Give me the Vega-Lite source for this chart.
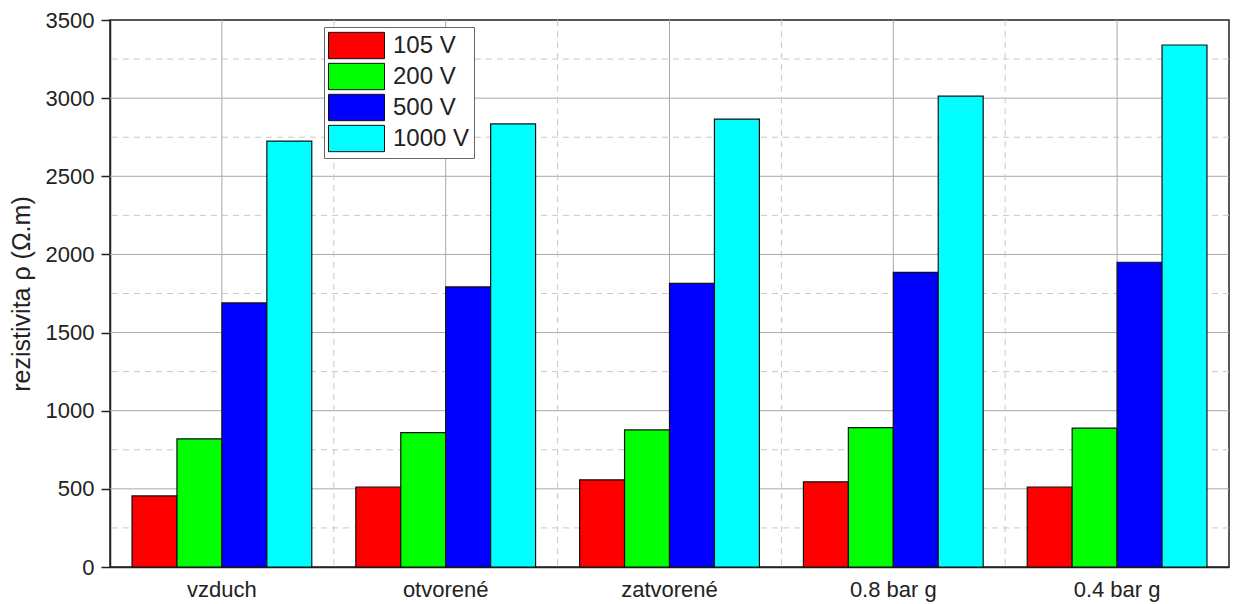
{
  "$schema": "https://vega.github.io/schema/vega-lite/v6.json",
  "width": 1119,
  "height": 547,
  "autosize": {"type": "none"},
  "padding": {"left": 110, "top": 20, "right": 11, "bottom": 37},
  "background": "white",
  "config": {
    "font": "Liberation Sans",
    "view": {"stroke": "#222", "strokeWidth": 1.5},
    "axis": {"labelFont": "Liberation Sans", "titleFont": "Liberation Sans", "labelColor": "#222", "titleColor": "#222", "domainColor": "#222", "tickColor": "#222", "domainWidth": 1.5, "tickWidth": 1.5}
  },
  "datasets": {
    "bars": [
      {"kategoria": "vzduch", "napatie": "105 V", "rho": 455},
      {"kategoria": "vzduch", "napatie": "200 V", "rho": 820},
      {"kategoria": "vzduch", "napatie": "500 V", "rho": 1690},
      {"kategoria": "vzduch", "napatie": "1000 V", "rho": 2725},
      {"kategoria": "otvorené", "napatie": "105 V", "rho": 512},
      {"kategoria": "otvorené", "napatie": "200 V", "rho": 860},
      {"kategoria": "otvorené", "napatie": "500 V", "rho": 1792},
      {"kategoria": "otvorené", "napatie": "1000 V", "rho": 2835},
      {"kategoria": "zatvorené", "napatie": "105 V", "rho": 558},
      {"kategoria": "zatvorené", "napatie": "200 V", "rho": 877},
      {"kategoria": "zatvorené", "napatie": "500 V", "rho": 1815},
      {"kategoria": "zatvorené", "napatie": "1000 V", "rho": 2866},
      {"kategoria": "0.8 bar g", "napatie": "105 V", "rho": 545},
      {"kategoria": "0.8 bar g", "napatie": "200 V", "rho": 892},
      {"kategoria": "0.8 bar g", "napatie": "500 V", "rho": 1885},
      {"kategoria": "0.8 bar g", "napatie": "1000 V", "rho": 3013},
      {"kategoria": "0.4 bar g", "napatie": "105 V", "rho": 512},
      {"kategoria": "0.4 bar g", "napatie": "200 V", "rho": 889},
      {"kategoria": "0.4 bar g", "napatie": "500 V", "rho": 1950},
      {"kategoria": "0.4 bar g", "napatie": "1000 V", "rho": 3340}
    ],
    "minor": [{"v": 250}, {"v": 750}, {"v": 1250}, {"v": 1750}, {"v": 2250}, {"v": 2750}, {"v": 3250}],
    "major": [{"v": 500}, {"v": 1000}, {"v": 1500}, {"v": 2000}, {"v": 2500}, {"v": 3000}],
    "cats": [{"kategoria": "vzduch"}, {"kategoria": "otvorené"}, {"kategoria": "zatvorené"}, {"kategoria": "0.8 bar g"}, {"kategoria": "0.4 bar g"}],
    "bounds": [{"kategoria": "otvorené"}, {"kategoria": "zatvorené"}, {"kategoria": "0.8 bar g"}, {"kategoria": "0.4 bar g"}]
  },
  "layer": [
    {
      "data": {"name": "minor"},
      "mark": {"type": "rule", "color": "#c8c8c8", "strokeDash": [6, 5], "strokeWidth": 1},
      "encoding": {"y": {"field": "v", "type": "quantitative"}}
    },
    {
      "data": {"name": "major"},
      "mark": {"type": "rule", "color": "#a8a8a8", "strokeWidth": 1},
      "encoding": {"y": {"field": "v", "type": "quantitative"}}
    },
    {
      "data": {"name": "bounds"},
      "mark": {"type": "rule", "color": "#c8c8c8", "strokeDash": [6, 5], "strokeWidth": 1},
      "encoding": {"x": {"field": "kategoria", "type": "nominal", "bandPosition": 0, "sort": null}}
    },
    {
      "data": {"name": "cats"},
      "mark": {"type": "rule", "color": "#a8a8a8", "strokeWidth": 1},
      "encoding": {"x": {"field": "kategoria", "type": "nominal", "bandPosition": 0.5, "sort": null}}
    },
    {
      "data": {"name": "bars"},
      "mark": {"type": "bar", "stroke": "#111", "strokeWidth": 1.2},
      "encoding": {
        "x": {"field": "kategoria", "type": "nominal", "sort": null,
          "scale": {"domain": ["vzduch", "otvorené", "zatvorené", "0.8 bar g", "0.4 bar g"], "paddingInner": 0, "paddingOuter": 0},
          "axis": {"title": null, "labelAngle": 0, "labelFontSize": 22, "ticks": false, "bandPosition": 0.5, "labelAlign": "center", "labelPadding": 22, "domain": true, "grid": false}},
        "xOffset": {"field": "napatie", "type": "nominal", "sort": null,
          "scale": {"domain": ["105 V", "200 V", "500 V", "1000 V"], "paddingInner": 0, "paddingOuter": 0.49}},
        "y": {"field": "rho", "type": "quantitative",
          "scale": {"domain": [0, 3500]},
          "axis": {"values": [0, 500, 1000, 1500, 2000, 2500, 3000, 3500], "format": "d", "labelFontSize": 22, "tickSize": 9, "labelPadding": 7, "grid": false, "title": "rezistivita ρ (Ω.m)", "titleFontSize": 25, "titleFontWeight": "normal", "titlePadding": 11}},
        "fill": {"field": "napatie", "type": "nominal", "sort": null,
          "scale": {"domain": ["105 V", "200 V", "500 V", "1000 V"], "range": ["#ff0000", "#00ff00", "#0000ff", "#00ffff"]},
          "legend": {"title": null, "orient": "none", "legendX": 214, "legendY": 7,
            "symbolType": "M-1,-0.94H3V0.94H-1Z", "symbolSize": 784, "symbolStrokeColor": "#111", "symbolStrokeWidth": 1,
            "labelFontSize": 24, "labelColor": "#222", "labelOffset": 36, "rowPadding": 0,
            "fillColor": "white", "strokeColor": "#666", "padding": 4}}
      }
    }
  ]
}
